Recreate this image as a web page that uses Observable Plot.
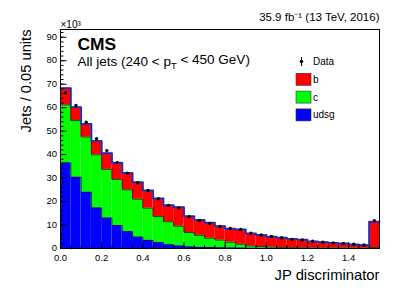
<!DOCTYPE html>
<html><head><meta charset="utf-8">
<script src="https://cdn.jsdelivr.net/npm/d3@7"></script>
<script src="https://cdn.jsdelivr.net/npm/@observablehq/plot@0.6"></script>
<style>
body{margin:0;background:#fff}
#chart{position:relative;width:407px;height:293px}
</style>
</head><body><div id="chart"></div>
<script>
// ---- data (values in thousands of jets per 0.05 bin) ----
const binLow = [0,0.05,0.1,0.15,0.2,0.25,0.3,0.35,0.4,0.45,0.5,0.55,0.6,0.65,0.7,0.75,0.8,0.85,0.9,0.95,1.0,1.05,1.1,1.15,1.2,1.25,1.3,1.35,1.4,1.45,1.5];
const binWidth = 0.05;
const udsg = [36.5,30.4,24.0,17.3,13.0,9.8,7.2,4.9,3.5,2.6,1.6,1.1,0.7,0.5,0.4,0.3,0.25,0.2,0.15,0.12,0.1,0.08,0.07,0.06,0.05,0.05,0.04,0.04,0.03,0.03,0.1];
const cJets = [24.7,24.1,23.5,22.6,20.7,19.6,17.8,16.1,13.7,11.0,9.8,8.4,6.1,5.1,4.0,3.3,2.45,1.6,0.95,0.73,0.5,0.37,0.28,0.24,0.2,0.15,0.16,0.11,0.12,0.07,0.3];
const bJets = [7.1,5.7,5.5,5.9,6.9,7.1,7.2,7.2,7.5,7.7,7.0,8.1,6.9,6.5,6.6,5.9,5.7,6.3,5.3,4.85,4.4,4.15,3.65,3.4,2.75,2.5,2.1,1.95,1.55,1.3,11.0];
const dataJets = [66.3,60.9,53.8,46.8,41.7,36.6,32.1,28.0,24.7,21.2,18.3,17.3,13.6,11.9,10.6,9.4,8.5,8.1,6.5,5.8,5.1,4.6,3.9,3.6,3.1,2.7,2.4,2.1,1.8,1.5,11.8];
const seriesNames = ["b","c","udsg"];
const seriesColors = ["#ff0000","#00ff00","#0000ff"];
const xTicks = [0,0.2,0.4,0.6,0.8,1,1.2,1.4];
const yTicks = [0,10,20,30,40,50,60,70,80,90];

// ---- derived tables ----
const rects = [];
const tops = {udsg:[], c:[], b:[]};
binLow.forEach((x, i) => {
  const u = udsg[i], uc = u + cJets[i], ucb = uc + bJets[i];
  rects.push({x1:x, x2:x+binWidth, y1:0, y2:u, layer:"udsg"});
  rects.push({x1:x, x2:x+binWidth, y1:u, y2:uc, layer:"c"});
  rects.push({x1:x, x2:x+binWidth, y1:uc, y2:ucb, layer:"b"});
  tops.udsg.push({x, y:u}); tops.c.push({x, y:uc}); tops.b.push({x, y:ucb});
});
const last = binLow.length - 1;
for (const k of Object.keys(tops)) tops[k].push({x: binLow[last] + binWidth, y: tops[k][last].y});
const colorOf = Object.fromEntries(seriesNames.map((n,i)=>[n, seriesColors[i]]));
const dataRows = binLow.map((x,i)=>({x: x + binWidth/2, y: dataJets[i]}));

const font = "'Liberation Sans', Arial, Helvetica, sans-serif";

const chart = Plot.plot({
  width: 407, height: 293,
  marginLeft: 60, marginRight: 28, marginTop: 29, marginBottom: 45,
  x: {domain: [0, 1.55]},
  y: {domain: [0, 93.3]},
  style: {fontFamily: font, fontSize: "9.5px", color: "black", background: "white"},
  marks: [
    ...seriesNames.slice().reverse().map(n =>
      Plot.rectY(rects.filter(r => r.layer === n), {x1:"x1", x2:"x2", y1:"y1", y2:"y2", fill: colorOf[n]})),
    Plot.line(tops.udsg, {x:"x", y:"y", curve:"step-after", stroke:"#00006a", strokeWidth:0.8}),
    Plot.line(tops.c, {x:"x", y:"y", curve:"step-after", stroke:"#111", strokeWidth:0.7}),
    Plot.line(tops.b, {x:"x", y:"y", curve:"step-after", stroke:"#3a3ac8", strokeWidth:2}),
    Plot.line(tops.b, {x:"x", y:"y", curve:"step-after", stroke:"#000055", strokeWidth:0.4}),
    Plot.dot(dataRows, {x:"x", y:"y", r:1.7, fill:"black"}),
    Plot.frame({stroke:"black", strokeWidth:1}),
    // axes
    Plot.axisX({ticks: xTicks, tickSize: 0, tickPadding: 5.5, label: null, fontSize: 9.5}),
    Plot.axisX({ticks: xTicks, tickSize: -6, text: null, label: null}),
    Plot.axisX({ticks: d3.range(0, 1.551, 0.05), tickSize: -3, text: null, label: null}),
    Plot.axisY({ticks: yTicks, tickSize: 0, tickPadding: 3.5, dy: -0.5, label: null, fontSize: 9.5}),
    Plot.axisY({ticks: yTicks, tickSize: -6.5, text: null, label: null}),
    Plot.axisY({ticks: d3.range(0, 93, 2), tickSize: -3.5, text: null, label: null}),
    // titles & annotations
    Plot.text(["Jets / 0.05 units"], {frameAnchor:"top-left", dx:-34, rotate:-90, textAnchor:"end", lineAnchor:"middle", fontSize:14.7}),
    Plot.text(["JP discriminator"], {frameAnchor:"bottom-right", dy:27, textAnchor:"end", lineAnchor:"middle", fontSize:14.8}),
    Plot.text(["35.9 fb⁻¹ (13 TeV, 2016)"], {frameAnchor:"top-right", dy:-12, textAnchor:"end", lineAnchor:"middle", fontSize:11.5}),
    Plot.text(["×10³"], {frameAnchor:"top-left", dy:-5, textAnchor:"start", lineAnchor:"middle", fontSize:10}),
    Plot.text(["CMS"], {frameAnchor:"top-left", dx:17, dy:15, textAnchor:"start", lineAnchor:"middle", fontSize:17.4, fontWeight:"bold"}),
    Plot.text(["All jets (240 < pT < 450 GeV)"], {frameAnchor:"top-left", dx:17, dy:32, textAnchor:"start", lineAnchor:"middle", fontSize:13.5})
  ]
});
document.getElementById("chart").appendChild(chart);

// subscript T in the selection label
const svg = d3.select(chart);
svg.selectAll("text").each(function(){
  const t = d3.select(this);
  if (t.text() === "All jets (240 < pT < 450 GeV)") {
    t.text(null);
    t.append("tspan").text("All jets (240 < p");
    t.append("tspan").attr("dy", "0.35em").attr("font-size", "70%").text("T");
    t.append("tspan").attr("dy", "-0.35em").text(" < 450 GeV)");
  }
});

// legend inside the frame
const leg = svg.append("g").attr("font-family", font).attr("font-size", 10).attr("text-anchor", "start");
const lx = 296, ly0 = 61.5, step = 17.8;
leg.append("line").attr("x1", lx+5.5).attr("x2", lx+5.5).attr("y1", ly0-4.5).attr("y2", ly0+4.5).attr("stroke","black").attr("stroke-width",1);
leg.append("circle").attr("cx", lx+5.5).attr("cy", ly0).attr("r", 1.8).attr("fill","black");
leg.append("text").attr("x", lx+17).attr("y", ly0).attr("dy","0.35em").attr("text-anchor","start").text("Data");
seriesNames.forEach((n,i)=>{
  const cy = ly0 + step*(i+1);
  leg.append("rect").attr("x", lx).attr("y", cy-6).attr("width",15).attr("height",12)
     .attr("fill", seriesColors[i]).attr("stroke","#333").attr("stroke-width",0.6);
  leg.append("text").attr("x", lx+17).attr("y", cy).attr("dy","0.35em").attr("text-anchor","start").text(n);
});
</script>
</body></html>
